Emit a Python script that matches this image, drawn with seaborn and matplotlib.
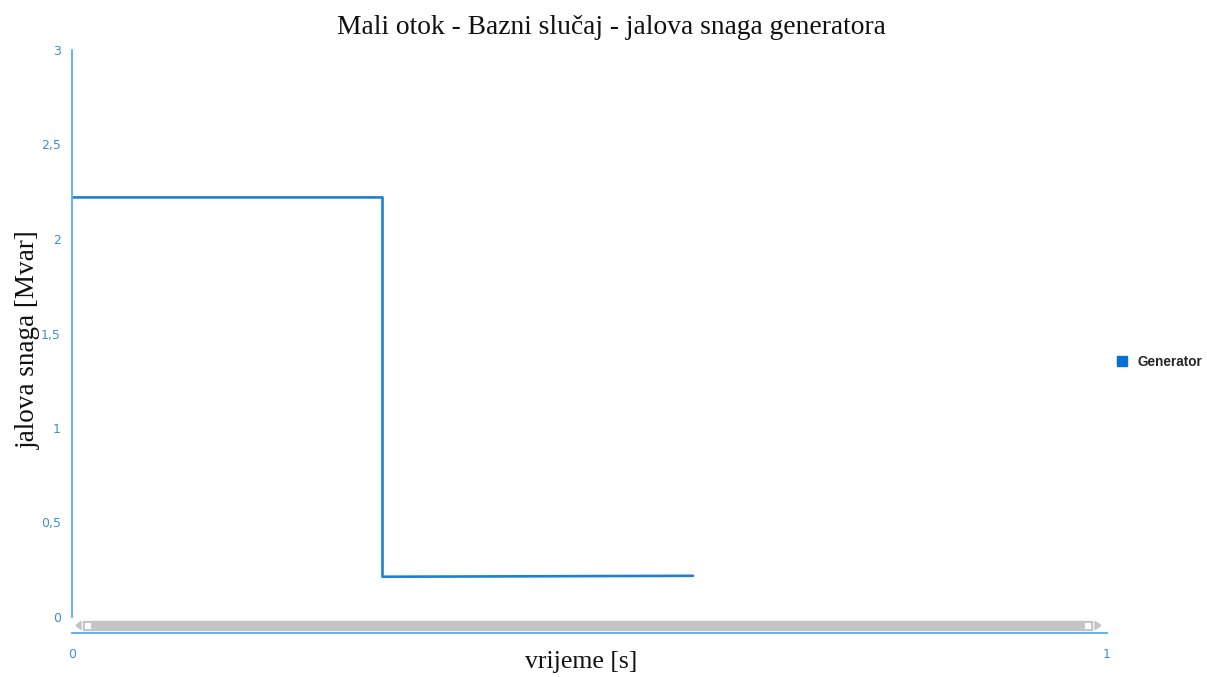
import matplotlib
matplotlib.use("Agg")
import matplotlib.pyplot as plt
from matplotlib.patches import Rectangle, Polygon
from matplotlib.lines import Line2D
from matplotlib.ticker import FuncFormatter
import pandas as pd
import seaborn as sns

# values
time_s = [0.0, 0.3, 0.3, 0.6]
q_mvar = [2.22, 2.22, 0.213, 0.218]
series_name = "Generator"
y_ticks = [0, 0.5, 1, 1.5, 2, 2.5, 3]
x_ticks = [0, 1]

line_col = "#1f7fd4"
axis_col = "#5aaae8"

sns.set_theme(style="white")

df = pd.DataFrame({"t": time_s, "q": q_mvar, "name": series_name})

fig = plt.figure(figsize=(12.07, 6.77), dpi=100)
ax = fig.add_axes([72 / 1207, 1 - 617 / 677, (1107 - 72) / 1207, (617 - 50) / 677])

sns.lineplot(data=df, x="t", y="q", sort=False, estimator=None, color=line_col,
             linewidth=1.9, ax=ax, legend=False)

ax.set_xlim(0, 1)
ax.set_ylim(0, 3)
ax.set_xticks(x_ticks)
ax.set_yticks(y_ticks)
fmt = FuncFormatter(lambda v, p: ("%g" % v).replace(".", ","))
ax.xaxis.set_major_formatter(fmt)
ax.yaxis.set_major_formatter(fmt)

for s in ["top", "right"]:
    ax.spines[s].set_visible(False)
for s in ["left", "bottom"]:
    ax.spines[s].set_color(axis_col)
    ax.spines[s].set_linewidth(1.3)
ax.spines["bottom"].set_position(("outward", 11.5))

ax.tick_params(axis="both", which="both", direction="out", length=4, width=1.2,
               color=axis_col, labelcolor="#3a8fd6", labelsize=9, pad=4)
ax.tick_params(axis="x", pad=7)
ax.set_xlabel("")
ax.set_ylabel("")

serif = dict(family="Liberation Serif", color="#111111", ha="center", va="center")
fig.text(581 / 1207, 1 - 662 / 677, "vrijeme [s]", fontsize=18.5, **serif)
fig.text(28 / 1207, 1 - 340 / 677, "jalova snaga [Mvar]", fontsize=19.5, rotation=90, **serif)
fig.text(611 / 1207, 1 - 28 / 677, "Mali otok - Bazni slučaj - jalova snaga generatora",
         fontsize=19.8, **serif)

# scrollbar strip under the plot
y0, y1 = 1 - 630 / 677, 1 - 621 / 677
fig.patches.append(Rectangle((83 / 1207, y0), (1092 - 83) / 1207, y1 - y0,
                             transform=fig.transFigure, color="#c4c4c4", zorder=1))
for xl in (84, 1084):
    fig.patches.append(Rectangle((xl / 1207, y0 + 0.002), 7 / 1207, y1 - y0 - 0.004,
                                 transform=fig.transFigure, facecolor="white",
                                 edgecolor="#bbbbbb", linewidth=0.5, zorder=2))
ym = (y0 + y1) / 2
fig.patches.append(Polygon([(81 / 1207, ym + 0.006), (81 / 1207, ym - 0.006), (76 / 1207, ym)],
                           transform=fig.transFigure, color="#c4c4c4"))
fig.patches.append(Polygon([(1095 / 1207, ym + 0.006), (1095 / 1207, ym - 0.006), (1101 / 1207, ym)],
                           transform=fig.transFigure, color="#c4c4c4"))

handle = Line2D([], [], marker="s", linestyle="", color="#0a6fd0", markersize=7)
fig.legend([handle], [series_name], loc="center left", bbox_to_anchor=(1116 / 1207, 1 - 362 / 677),
           frameon=False, prop={"family": "Liberation Sans", "weight": "bold", "size": 9.8},
           handlelength=0.9, handletextpad=0.7, borderpad=0, borderaxespad=0)

fig.savefig("out.png", dpi=100)
